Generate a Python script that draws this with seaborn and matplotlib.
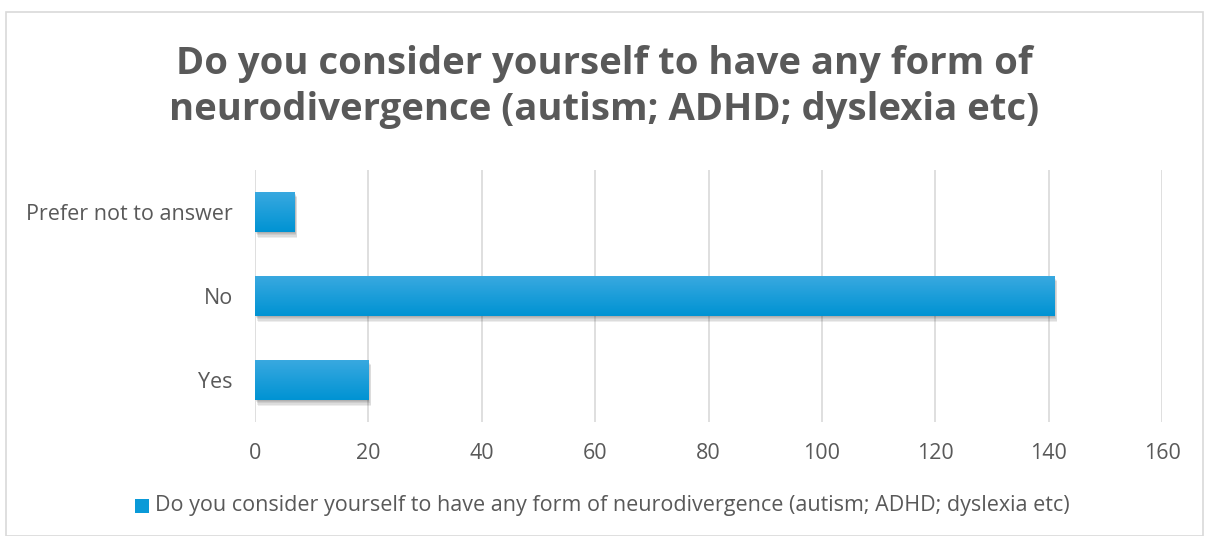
import numpy as np
import pandas as pd
import matplotlib
matplotlib.use("Agg")
import matplotlib.pyplot as plt
import matplotlib.patheffects as pe
from matplotlib.patches import Rectangle
import seaborn as sns

# data
categories = ["Prefer not to answer", "No", "Yes"]
counts = [7, 141, 20]
x_ticks = [0, 20, 40, 60, 80, 100, 120, 140, 160]
title = "Do you consider yourself to have any form of\nneurodivergence (autism; ADHD; dyslexia etc)"
series_name = "Do you consider yourself to have any form of neurodivergence (autism; ADHD; dyslexia etc)"

df = pd.DataFrame({"answer": categories, "count": counts})

sns.set_theme(style="white")
plt.rcParams["font.family"] = ["Open Sans", "DejaVu Sans"]

grey = "#595959"
blue = "#0a9ad8"

fig = plt.figure(figsize=(12.09, 5.36), dpi=100)
fig.patch.set_facecolor("white")
# outer chart border
fig.add_artist(Rectangle((6 / 1209, 0), 1 - 12 / 1209, 1 - 12 / 536, transform=fig.transFigure,
                         fill=False, edgecolor="#d9d9d9", linewidth=1.2))

ax = fig.add_axes([255 / 1209, 1 - 422 / 536, (1162 - 255) / 1209, 252 / 536])
sns.barplot(data=df, x="count", y="answer", order=categories, orient="h",
            color=blue, width=0.48, saturation=1, linewidth=0, ax=ax, zorder=3)

# gradient fill + soft shadow on each bar
grad = np.linspace(0, 1, 64).reshape(-1, 1)
cmap = matplotlib.colors.LinearSegmentedColormap.from_list("bar", ["#3aa9e0", "#0093d3"])
shadow = [pe.SimplePatchShadow(offset=(0.4 * k, -0.8 * k), shadow_rgbFace="#000000", alpha=0.07)
          for k in range(5, 0, -1)]
for p in ax.patches:
    p.set_edgecolor("none")
    p.set_path_effects(shadow + [pe.Normal()])
    x0, y0 = p.get_x(), p.get_y()
    w, h = p.get_width(), p.get_height()
    im = ax.imshow(grad, cmap=cmap, aspect="auto", extent=(x0, x0 + w, y0 + h, y0),
                   zorder=4, interpolation="bilinear")
    im.set_clip_path(p)

ax.set_xlim(0, 160)
ax.set_ylim(2.5, -0.5)
ax.set_xticks(x_ticks)
ax.grid(axis="x", color="#d9d9d9", linewidth=1.2, zorder=0)
ax.grid(axis="y", visible=False)
for s in ax.spines.values():
    s.set_visible(False)
ax.set_xlabel("")
ax.set_ylabel("")
ax.tick_params(axis="both", length=0, labelsize=15.5, labelcolor=grey)
ax.tick_params(axis="x", pad=15)
ax.tick_params(axis="y", pad=16)

fig.text(0.5, 1 - 87 / 536, title, ha="center", va="center", fontsize=27.5,
         fontweight="bold", color=grey, linespacing=1.25)

# legend
fig.add_artist(Rectangle((135 / 1209, 1 - 513 / 536), 14 / 1209, 14 / 536,
                         transform=fig.transFigure, facecolor=blue, edgecolor="none"))
fig.text(155 / 1209, 1 - 506 / 536, series_name, ha="left", va="center",
         fontsize=15.5, color=grey)

fig.savefig("out.png", dpi=100, facecolor="white")
